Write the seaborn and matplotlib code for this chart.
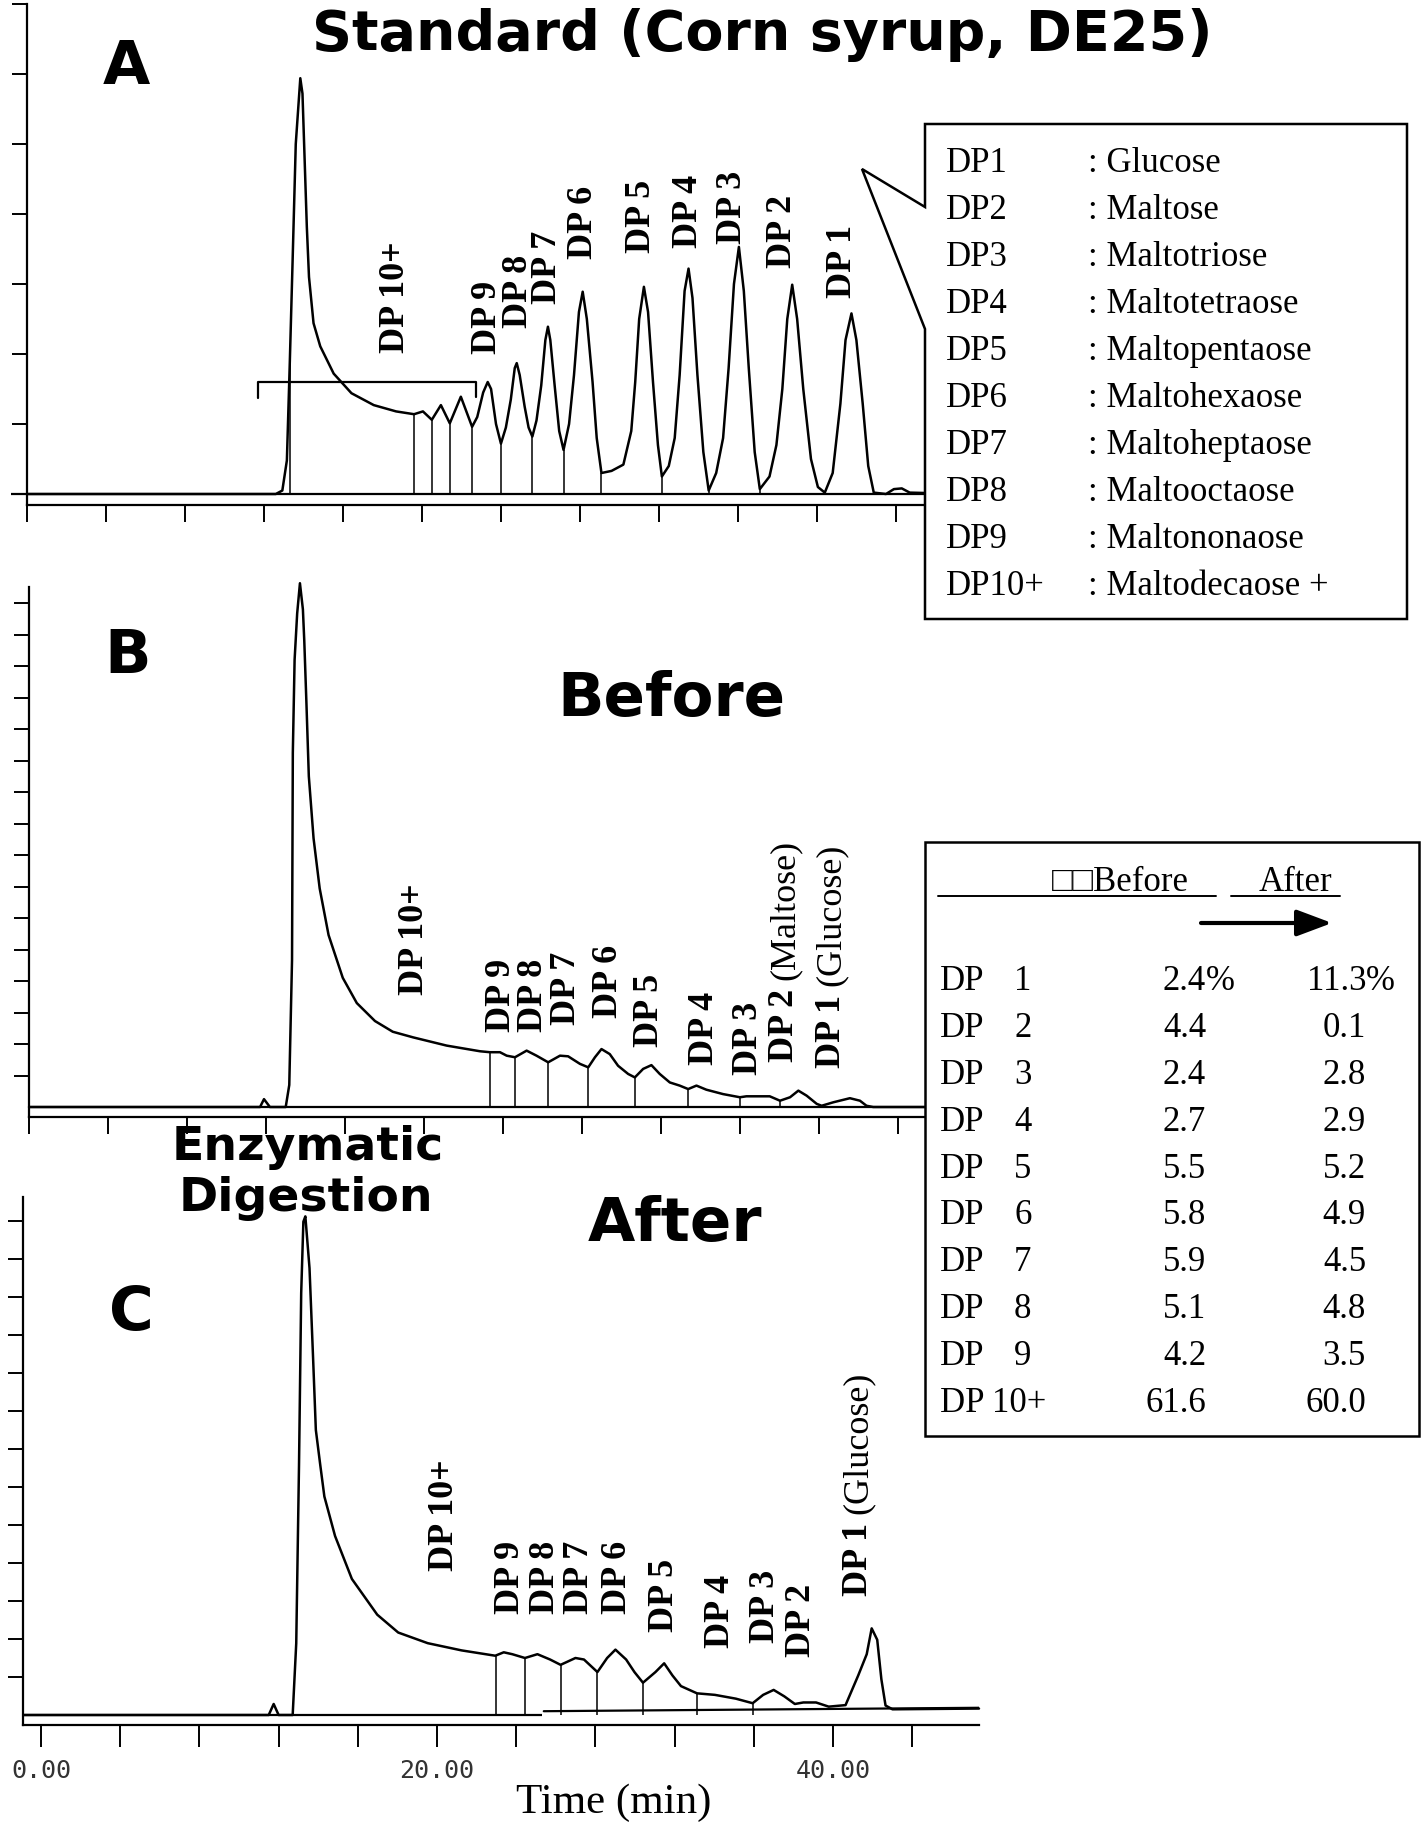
import numpy as np
import pandas as pd
import matplotlib
matplotlib.use("Agg")
import matplotlib.pyplot as plt
import seaborn as sns
from matplotlib.patches import Polygon, Rectangle

# ---------------- data ----------------
# Panel A : standard (corn syrup, DE25)  time (min) / signal (tick units)
A_time = [0.0, 12.6, 12.93, 13.16, 13.31, 13.45, 13.61, 13.84, 13.95, 14.06, 14.17, 14.28, 14.51, 14.85, 15.53, 16.43, 17.56, 18.69, 19.6,
          20.05, 20.5, 20.96, 21.41, 21.97, 22.54,
          22.8, 23.1, 23.33, 23.5, 23.75, 24.0,
          24.25, 24.5, 24.7, 24.8, 24.95, 25.2, 25.4, 25.59,
          25.8, 26.04, 26.25, 26.38, 26.5, 26.72, 26.95, 27.17,
          27.45, 27.7, 27.95, 28.14, 28.35, 28.64, 28.85, 29.09,
          29.6, 30.2, 30.6, 30.8, 31.0, 31.24, 31.45, 31.7, 31.95, 32.15,
          32.5, 32.8, 33.05, 33.3, 33.5, 33.7, 33.95, 34.25, 34.52,
          34.9, 35.25, 35.53, 35.8, 36.05, 36.3, 36.55, 36.85, 37.11,
          37.6, 37.95, 38.25, 38.5, 38.75, 39.0, 39.31, 39.7, 40.05, 40.4,
          40.8, 41.19, 41.45, 41.75, 42.0, 42.32, 42.6, 42.88,
          43.5, 43.9, 44.3, 44.7, 47.5]
A_signal = [0.0, 0.0, 0.05, 0.48, 1.9, 3.33, 5.0, 5.94, 5.72, 4.77, 3.82, 3.1, 2.44, 2.11, 1.72, 1.44, 1.27, 1.18, 1.14,
            1.18, 1.06, 1.27, 1.01, 1.39, 0.96,
            1.1, 1.45, 1.6, 1.5, 1.0, 0.72,
            0.95, 1.35, 1.8, 1.87, 1.7, 1.25, 0.95, 0.82,
            1.05, 1.55, 2.2, 2.39, 2.2, 1.55, 0.9, 0.63,
            1.0, 1.7, 2.6, 2.89, 2.5, 1.6, 0.8, 0.30,
            0.33, 0.42, 0.9, 1.6, 2.5, 2.96, 2.6, 1.6, 0.7, 0.25,
            0.4, 0.8, 1.7, 2.9, 3.22, 2.8, 1.7, 0.6, 0.05,
            0.3, 0.8, 1.8, 3.0, 3.53, 2.9, 1.8, 0.6, 0.07,
            0.25, 0.7, 1.5, 2.5, 2.99, 2.5, 1.5, 0.5, 0.1, 0.02,
            0.3, 1.29, 2.2, 2.58, 2.2, 1.29, 0.4, 0.02,
            0.0, 0.07, 0.08, 0.02, 0.0]
A_drop_time = [13.31, 19.6, 20.5, 21.41, 22.54, 24.0, 25.59, 27.17, 29.09, 32.15, 34.52, 37.11, 40.4]
A_drop_signal = [1.87, 1.14, 1.06, 1.01, 0.96, 0.72, 0.82, 0.63, 0.30, 0.25, 0.05, 0.07, 0.02]
A_bracket_time = [11.69, 11.69, 22.72, 22.72]
A_bracket_signal = [1.37, 1.60, 1.60, 1.39]
A_label_text = ["DP 10+", "DP 9", "DP 8", "DP 7", "DP 6", "DP 5", "DP 4", "DP 3", "DP 2", "DP 1"]
A_label_note = ["", "", "", "", "", "", "", "", "", ""]
A_label_time = [18.68, 23.33, 24.9, 26.38, 28.19, 31.13, 33.5, 35.75, 38.25, 41.3]
A_label_signal = [2.03, 2.01, 2.39, 2.73, 3.37, 3.46, 3.53, 3.58, 3.25, 2.82]

# Panel B : before digestion
B_time = [0.0, 11.7, 11.9, 12.2, 13.0, 13.18, 13.32, 13.36, 13.45, 13.58, 13.72, 13.87, 13.94, 14.05, 14.17, 14.41,
          14.72, 15.17, 15.89, 16.6, 17.52, 18.42, 19.46, 21.15, 22.84, 23.34, 23.85, 24.19, 24.61, 25.2, 25.7,
          26.29, 26.89, 27.3, 27.9, 28.32, 28.66, 28.99, 29.41, 29.83, 30.34, 30.68, 31.1, 31.52, 31.94, 32.45,
          32.95, 33.38, 33.8, 34.3, 35.15, 36.0, 36.33, 37.51, 38.03, 38.54, 38.96, 39.38, 39.89, 40.14, 40.73,
          41.57, 42.08, 42.41, 42.75, 47.5]
B_signal = [0.0, 0.0, 0.25, 0.0, 0.0, 0.7, 4.67, 11.25, 14.2, 15.67, 16.63, 15.8, 14.8, 12.8, 10.5, 8.53,
            6.94, 5.46, 4.1, 3.3, 2.73, 2.39, 2.21, 1.95, 1.77, 1.74, 1.74, 1.63, 1.58, 1.79, 1.63,
            1.42, 1.63, 1.61, 1.37, 1.26, 1.58, 1.84, 1.68, 1.31, 1.05, 0.94, 1.21, 1.33, 1.05, 0.78,
            0.68, 0.57, 0.68, 0.55, 0.41, 0.31, 0.34, 0.34, 0.2, 0.31, 0.52, 0.36, 0.1, 0.04, 0.15,
            0.28, 0.2, 0.04, 0.0, 0.0]
B_drop_time = [23.34, 24.61, 26.29, 28.32, 30.68, 33.38, 36.0, 38.03]
B_drop_signal = [1.74, 1.58, 1.42, 1.26, 0.94, 0.57, 0.31, 0.2]
B_label_text = ["DP 10+", "DP 9", "DP 8", "DP 7", "DP 6", "DP 5", "DP 4", "DP 3", "DP 2", "DP 1"]
B_label_note = ["", "", "", "", "", "", "", "", "(Maltose)", "(Glucose)"]
B_label_time = [19.54, 23.93, 25.53, 27.23, 29.33, 31.44, 34.23, 36.42, 38.28, 40.64]
B_label_signal = [3.59, 2.42, 2.42, 2.63, 2.85, 1.95, 1.37, 1.05, 1.47, 1.26]

# Panel C : after digestion
C_time = [-0.9, 11.5, 11.75, 12.0, 12.71, 12.89, 13.03, 13.14, 13.25, 13.35, 13.56, 13.74, 13.88, 14.1, 14.31,
          14.85, 15.7, 16.98, 18.04, 19.53, 21.24, 22.94, 23.37, 23.8, 24.44, 25.07, 25.71, 26.24, 26.99, 27.42,
          28.1, 28.59, 29.01, 29.55, 29.97, 30.4, 31.03, 31.47, 31.89, 32.32, 33.13, 34.03, 35.09, 35.94, 36.47,
          37.0, 37.54, 38.07, 38.5, 39.14, 39.78, 40.63, 41.27, 41.7, 41.95, 42.23, 42.44, 42.65, 43.0, 47.37]
C_signal = [0.0, 0.0, 0.29, 0.0, 0.0, 1.89, 6.59, 11.1, 12.98, 13.12, 11.76, 9.4, 7.5, 6.59, 5.75,
            4.71, 3.58, 2.64, 2.17, 1.89, 1.7, 1.56, 1.65, 1.6, 1.5, 1.6, 1.46, 1.32, 1.5, 1.46,
            1.13, 1.5, 1.72, 1.46, 1.13, 0.85, 1.13, 1.36, 1.04, 0.76, 0.57, 0.53, 0.43, 0.31, 0.53,
            0.66, 0.49, 0.29, 0.33, 0.33, 0.22, 0.26, 1.04, 1.6, 2.28, 1.98, 0.94, 0.25, 0.15, 0.17]
C_drop_time = [23.0, 24.44, 26.24, 28.1, 30.4, 33.13, 35.94]
C_drop_signal = [1.56, 1.5, 1.32, 1.13, 0.85, 0.57, 0.31]
C_base2_time = [25.39, 47.37]
C_base2_signal = [0.10, 0.19]
C_label_text = ["DP 10+", "DP 9", "DP 8", "DP 7", "DP 6", "DP 5", "DP 4", "DP 3", "DP 2", "DP 1"]
C_label_note = ["", "", "", "", "", "", "", "", "", "(Glucose)"]
C_label_time = [20.38, 23.69, 25.5, 27.2, 29.12, 31.47, 34.34, 36.58, 38.39, 41.27]
C_label_signal = [3.82, 2.68, 2.68, 2.68, 2.68, 2.22, 1.79, 1.93, 1.56, 3.16]

x_ticks = [0, 4, 8, 12, 16, 20, 24, 28, 32, 36, 40, 44]
x_tick_labels = ["0.00", "", "", "", "", "20.00", "", "", "", "", "40.00", ""]

legend_codes = ["DP1", "DP2", "DP3", "DP4", "DP5", "DP6", "DP7", "DP8", "DP9", "DP10+"]
legend_names = [": Glucose", ": Maltose", ": Maltotriose", ": Maltotetraose", ": Maltopentaose",
                ": Maltohexaose", ": Maltoheptaose", ": Maltooctaose", ": Maltononaose", ": Maltodecaose +"]

table_dp = ["1", "2", "3", "4", "5", "6", "7", "8", "9", "10+"]
table_before = [2.4, 4.4, 2.4, 2.7, 5.5, 5.8, 5.9, 5.1, 4.2, 61.6]
table_after = [11.3, 0.1, 2.8, 2.9, 5.2, 4.9, 4.5, 4.8, 3.5, 60.0]

# ---------------- style ----------------
sns.set_style("ticks")
plt.rcParams["font.family"] = ["DejaVu Sans"]
plt.rcParams["axes.edgecolor"] = "black"
plt.rcParams["xtick.color"] = "black"
plt.rcParams["ytick.color"] = "black"
plt.rcParams["text.color"] = "black"

W, H = 1424, 1824
SERIF = ["Liberation Serif", "DejaVu Serif"]
SANS_BOLD = "DejaVu Sans"
LBL = 26

fig = plt.figure(figsize=(W / 100, H / 100), dpi=100)
fig.patch.set_facecolor("white")


def rect(left, top, right, bottom):
    return [left / W, 1 - bottom / H, (right - left) / W, (bottom - top) / H]


def panel(ax, t, s, drop_t, drop_s, xlim, ylim, nyt, xtick_len):
    df = pd.DataFrame({"time": t, "signal": s})
    sns.lineplot(data=df, x="time", y="signal", ax=ax, color="black", linewidth=1.8,
                 estimator=None, sort=False)
    ax.lines[-1].set_clip_on(False)
    ax.vlines(drop_t, 0, drop_s, color="black", lw=1.1)
    ax.set_xlim(*xlim)
    ax.set_ylim(*ylim)
    ax.set_xticks(x_ticks)
    ax.set_xticklabels([])
    ax.set_yticks(list(range(1, nyt + 1)))
    ax.set_yticklabels([])
    ax.set_xlabel("")
    ax.set_ylabel("")
    for sp in ["top", "right"]:
        ax.spines[sp].set_visible(False)
    for sp in ["left", "bottom"]:
        ax.spines[sp].set_linewidth(1.6)
    ax.tick_params(axis="y", direction="out", length=11, width=1.4)
    ax.tick_params(axis="x", direction="out", length=xtick_len, width=1.4)
    ax.patch.set_alpha(0)


def labels(ax, times, sigs, texts, notes):
    r = fig.canvas.get_renderer()
    for t, s, txt, note in zip(times, sigs, texts, notes):
        tb = ax.text(t, s, txt, rotation=90, ha="center", va="bottom", family=SERIF,
                     fontweight="bold", fontsize=LBL)
        if note:
            bb = tb.get_window_extent(renderer=r)
            inv = ax.transData.inverted()
            _, ytop = inv.transform((bb.x0, bb.y1 + 9))
            ax.text(t, ytop, note, rotation=90, ha="center", va="bottom", family=SERIF,
                    fontweight="normal", fontsize=LBL)


# Panel A
axA = fig.add_axes(rect(27, 5, 965, 506))
panel(axA, A_time, A_signal, A_drop_time, A_drop_signal, (0, 47.5), (-0.157, 7.0), 7, 12)
axA.hlines(0, -0.8, 47.5, color="black", lw=1.6, clip_on=False)
axA.plot(A_bracket_time, A_bracket_signal, color="black", lw=1.6)
labels(axA, A_label_time, A_label_signal, A_label_text, A_label_note)

# Panel B
axB = fig.add_axes(rect(29, 588, 967, 1118))
panel(axB, B_time, B_signal, B_drop_time, B_drop_signal, (0, 47.5), (-0.317, 16.51), 16, 12)
axB.hlines(0, 0, 47.5, color="black", lw=1.6)
labels(axB, B_label_time, B_label_signal, B_label_text, B_label_note)

# Panel C
axC = fig.add_axes(rect(23, 1198, 979, 1726))
panel(axC, C_time, C_signal, C_drop_time, C_drop_signal, (-0.909, 47.37), (-0.263, 13.63), 13, 16)
axC.hlines(0, -0.909, 25.3, color="black", lw=1.6)
axC.plot(C_base2_time, C_base2_signal, color="black", lw=1.6)
axC.set_xticklabels(x_tick_labels, family="DejaVu Sans Mono", fontsize=18, color="#333333")
axC.tick_params(axis="x", pad=8)
labels(axC, C_label_time, C_label_signal, C_label_text, C_label_note)

# ---------------- overlay (pixel coordinates) ----------------
ov = fig.add_axes([0, 0, 1, 1])
ov.set_xlim(0, W)
ov.set_ylim(H, 0)
ov.axis("off")
ov.patch.set_alpha(0)

ov.text(762, 50, "Standard (Corn syrup, DE25)", ha="center", va="baseline",
        fontsize=40, fontweight="bold", family=SANS_BOLD)
ov.text(126, 84, "A", ha="center", va="baseline", fontsize=44, fontweight="bold", family=SANS_BOLD)
ov.text(128, 673, "B", ha="center", va="baseline", fontsize=44, fontweight="bold", family=SANS_BOLD)
ov.text(131, 1330, "C", ha="center", va="baseline", fontsize=44, fontweight="bold", family=SANS_BOLD)
ov.text(671, 716, "Before", ha="center", va="baseline", fontsize=44, fontweight="bold", family=SANS_BOLD)
ov.text(675, 1241, "After", ha="center", va="baseline", fontsize=44, fontweight="bold", family=SANS_BOLD)
ov.text(308, 1160, "Enzymatic", ha="center", va="baseline", fontsize=34, fontweight="bold", family=SANS_BOLD)
ov.text(306, 1211, "Digestion", ha="center", va="baseline", fontsize=34, fontweight="bold", family=SANS_BOLD)
ov.text(614, 1813, "Time (min)", ha="center", va="baseline", fontsize=31, family=SERIF)

# callout legend box (panel A)
callout = Polygon([(925, 125), (1407, 125), (1407, 620), (925, 620), (925, 330), (862, 170), (925, 208)],
                  closed=True, facecolor="white", edgecolor="black", lw=1.8, zorder=3)
ov.add_patch(callout)
for i, (code, name) in enumerate(zip(legend_codes, legend_names)):
    yb = 171.5 + 47.06 * i
    ov.text(946, yb, code, ha="left", va="baseline", fontsize=25, family=SERIF, zorder=4)
    ov.text(1088, yb, name, ha="left", va="baseline", fontsize=25, family=SERIF, zorder=4)

# percentage table (panels B/C)
ov.add_patch(Rectangle((925, 843), 494, 594, facecolor="white", edgecolor="black", lw=1.8, zorder=3))
ov.text(1052, 891, "\u25a1\u25a1Before", ha="left", va="baseline", fontsize=25,
        family=["Liberation Serif", "DejaVu Sans"], zorder=4)
ov.text(1259, 891, "After", ha="left", va="baseline", fontsize=25, family=SERIF, zorder=4)
ov.plot([938, 1216], [897, 897], color="black", lw=1.4, zorder=4)
ov.plot([1231, 1340], [897, 897], color="black", lw=1.4, zorder=4)
ov.annotate("", xy=(1332, 924), xytext=(1201, 924), zorder=4,
            arrowprops=dict(arrowstyle="-|>,head_length=0.8,head_width=0.3", lw=3,
                            color="black", mutation_scale=27, shrinkA=0, shrinkB=0))
for i, (dp, b, a) in enumerate(zip(table_dp, table_before, table_after)):
    yb = 990 + 46.9 * i
    if dp == "10+":
        ov.text(940, yb, "DP 10+", ha="left", va="baseline", fontsize=25, family=SERIF, zorder=4)
    else:
        ov.text(940, yb, "DP", ha="left", va="baseline", fontsize=25, family=SERIF, zorder=4)
        ov.text(1014, yb, dp, ha="left", va="baseline", fontsize=25, family=SERIF, zorder=4)
    ov.text(1206, yb, f"{b:.1f}", ha="right", va="baseline", fontsize=25, family=SERIF, zorder=4)
    ov.text(1366, yb, f"{a:.1f}", ha="right", va="baseline", fontsize=25, family=SERIF, zorder=4)
    if i == 0:
        ov.text(1206, yb, "%", ha="left", va="baseline", fontsize=25, family=SERIF, zorder=4)
        ov.text(1366, yb, "%", ha="left", va="baseline", fontsize=25, family=SERIF, zorder=4)

fig.savefig("out.png", dpi=100, facecolor="white")
